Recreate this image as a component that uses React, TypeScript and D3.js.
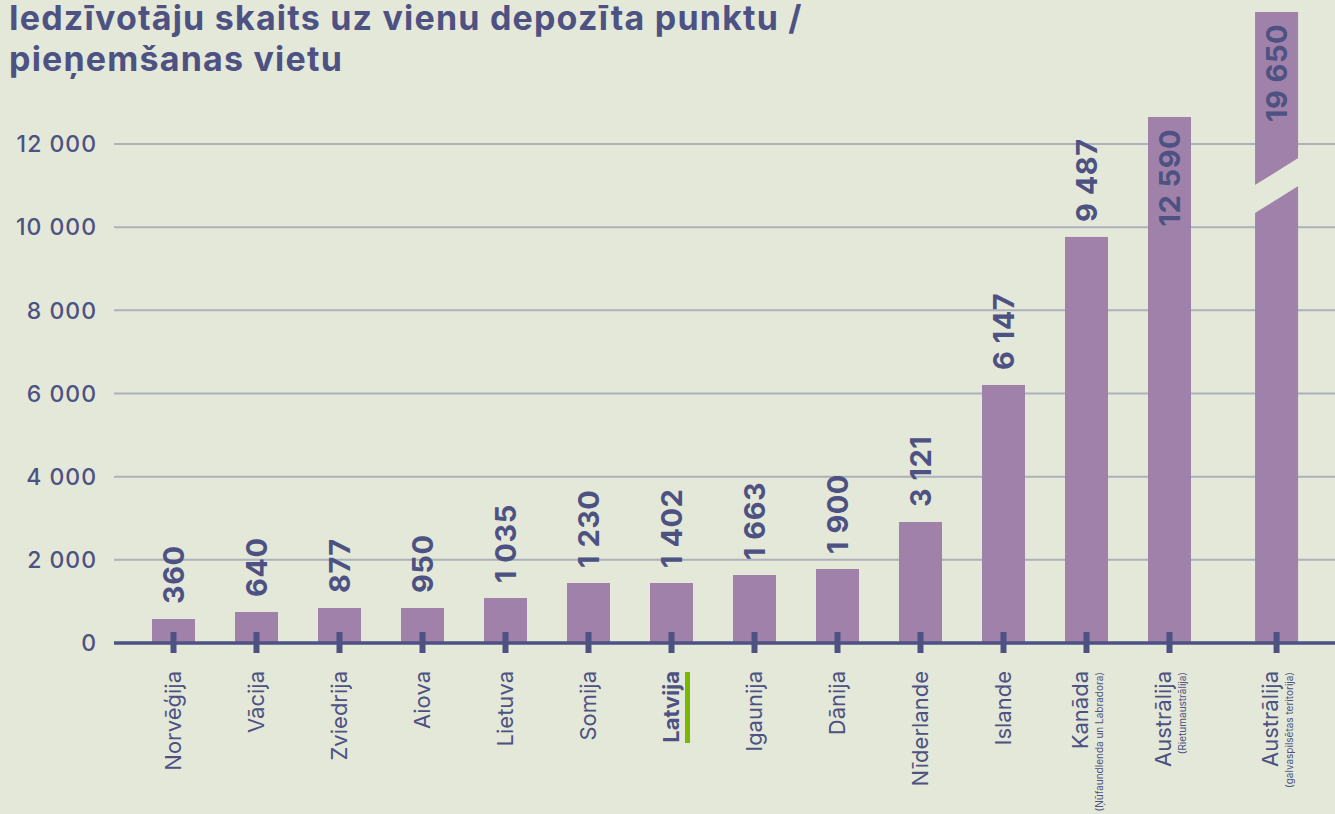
import React, { useEffect } from "react";
import * as d3 from "d3";

const categories = [
  "Norvēģija", "Vācija", "Zviedrija", "Aiova", "Lietuva", "Somija", "Latvija",
  "Igaunija", "Dānija", "Nīderlande", "Islande", "Kanāda", "Austrālija", "Austrālija",
];
const subLabels = [
  "", "", "", "", "", "", "", "", "", "", "",
  "(Ņūfaundlenda un Labradora)", "(Rietumaustrālija)", "(galvaspilsētas teritorija)",
];
// stated values (labels)
const values = [360, 640, 877, 950, 1035, 1230, 1402, 1663, 1900, 3121, 6147, 9487, 12590, 19650];
// bar heights as drawn in the picture
const barHeights = [577, 746, 842, 842, 1082, 1443, 1443, 1635, 1780, 2910, 6205, 9765, 12650, 15175];
const yTicks = [0, 2000, 4000, 6000, 8000, 10000, 12000];
const highlight = "Latvija";
const titleLines = ["Iedzīvotāju skaits uz vienu depozīta punktu /", "pieņemšanas vietu"];
const breakAt = 11000;

const W = 1335;
const H = 814;
const BG = "#e4e8d9";
const INK = "#4d5283";
const BAR = "#a081a9";
const GRID = "#adb1ba";
const GREEN = "#78b800";
const FONT = "Inter, 'Noto Sans', sans-serif";

export default function App() {
  useEffect(() => {
    document.body.style.margin = "0";
    document.body.style.background = BG;
  }, []);

  const y = d3.scaleLinear().domain([0, 12000]).range([643, 144]);
  const slot = d3.scaleLinear().domain([0, 12]).range([173.5, 1169.5]);
  const extraGap = 0.29;
  const cxOf = (i: number) => slot(i + (i >= 13 ? extraGap : 0));
  const fmt = d3
    .formatLocale({ decimal: ",", thousands: " ", grouping: [3], currency: ["", ""] })
    .format(",d");
  const barW = 43;
  const gridX0 = 114;

  return (
    <svg width={W} height={H} style={{ display: "block", position: "absolute", left: 0, top: 0 }} fontFamily={FONT}>
      <rect x={0} y={0} width={W} height={H} fill={BG} />
      {titleLines.map((t, i) => (
        <text key={i} x={9} y={30 + i * 41} fontSize={34} fontWeight={700} letterSpacing={1.2} fill={INK}>
          {t}
        </text>
      ))}
      {yTicks.map((t) => (
        <g key={t}>
          {t !== 0 && (
            <line x1={gridX0} x2={W} y1={y(t)} y2={y(t)} stroke={GRID} strokeWidth={2} />
          )}
          <text x={97} y={y(t)} dy="0.36em" textAnchor="end" fontSize={23} fontWeight={500} letterSpacing={1} fill={INK}>
            {fmt(t)}
          </text>
        </g>
      ))}
      {categories.map((c, i) => {
        const cx = cxOf(i);
        const h = barHeights[i];
        const top = y(h);
        const broken = values[i] > h;
        const yb = y(breakAt);
        const x0 = cx - barW / 2 - 1;
        const x1 = cx + barW / 2 + 1;
        return (
          <g key={i}>
            <rect x={cx - barW / 2} y={top} width={barW} height={y(0) - top} fill={BAR} />
            {broken && (
              <polygon
                points={[
                  [x0, yb],
                  [x1, yb - 28],
                  [x1, yb],
                  [x0, yb + 28],
                ]
                  .map((p) => p.join(","))
                  .join(" ")}
                fill={BG}
              />
            )}
          </g>
        );
      })}
      <line x1={gridX0} x2={W} y1={y(0)} y2={y(0)} stroke={INK} strokeWidth={3.5} />
      {categories.map((c, i) => {
        const cx = cxOf(i);
        const h = barHeights[i];
        const inside = h > 12000;
        const ay = inside ? y(h) + 12 : y(h) - 15;
        const hasSub = subLabels[i] !== "";
        const isHi = c === highlight;
        return (
          <g key={"l" + i}>
            <rect x={cx - 3} y={632} width={6} height={21} fill={INK} />
            <text
              transform={`translate(${cx + 10},${ay}) rotate(-90)`}
              textAnchor={inside ? "end" : "start"}
              fontSize={29}
              fontWeight={700}
              letterSpacing={0.5}
              fill={INK}
            >
              {fmt(values[i])}
            </text>
            <text
              transform={`translate(${cx + (hasSub ? 1.5 : 7)},671) rotate(-90)`}
              textAnchor="end"
              fontSize={22}
              fontWeight={isHi ? 700 : 400}
              fill={INK}
            >
              {c}
            </text>
            {hasSub && (
              <text
                transform={`translate(${cx + 16.5},672) rotate(-90)`}
                textAnchor="end"
                fontSize={10}
                fill={INK}
              >
                {subLabels[i]}
              </text>
            )}
            {isHi && <rect x={cx + 13.5} y={672} width={5} height={71} fill={GREEN} />}
          </g>
        );
      })}
    </svg>
  );
}
